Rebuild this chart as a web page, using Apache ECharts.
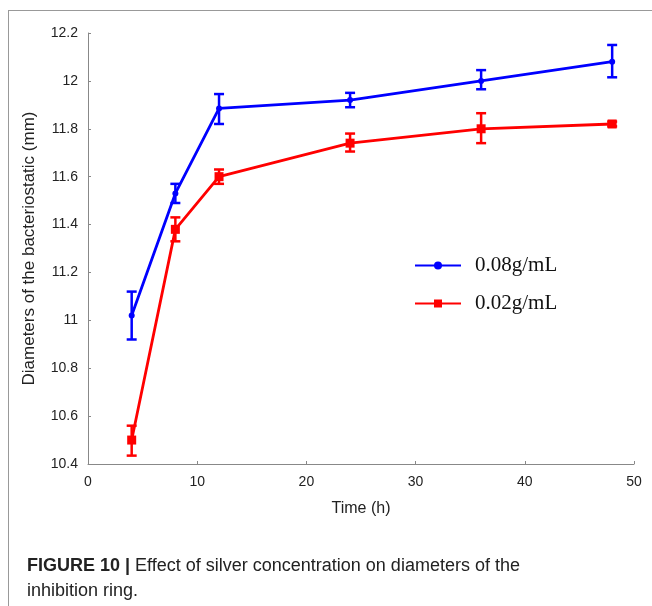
<!DOCTYPE html>
<html>
<head>
<meta charset="utf-8">
<script src="https://cdn.jsdelivr.net/npm/echarts@6/dist/echarts.min.js"></script>
<style>
  html, body { margin: 0; padding: 0; background: #fff; }
  #frame { position: absolute; left: 8px; top: 10px; width: 644px; height: 596px; border-left: 1px solid #999; border-top: 1px solid #999; }
  #chart { position: absolute; left: 0; top: 0; width: 652px; height: 606px; }
</style>
</head>
<body>
<div id="frame"></div>
<div id="chart"></div>
<script>
const times = [4, 8, 12, 24, 36, 48];
const highMean = [11.02, 11.53, 11.885, 11.92, 12.0, 12.08];
const highLow  = [10.92, 11.49, 11.82, 11.89, 11.965, 12.015];
const highUp   = [11.12, 11.57, 11.945, 11.95, 12.045, 12.15];
const lowMean  = [10.50, 11.38, 11.60, 11.74, 11.80, 11.82];
const lowLow   = [10.435, 11.33, 11.57, 11.705, 11.74, 11.81];
const lowUp    = [10.56, 11.43, 11.63, 11.78, 11.865, 11.83];
const seriesNames = ['0.08g/mL', '0.02g/mL'];

const chart = echarts.init(document.getElementById('chart'));

function errBars(color, low, up) {
  return {
    type: 'custom',
    silent: true,
    z: 1,
    data: times.map((t, i) => [t, low[i], up[i]]),
    renderItem: (params, api) => {
      const a = api.coord([api.value(0), api.value(1)]);
      const b = api.coord([api.value(0), api.value(2)]);
      const w = 5;
      const style = { stroke: color, lineWidth: 2.5 };
      return {
        type: 'group',
        children: [
          { type: 'line', shape: { x1: a[0], y1: a[1], x2: b[0], y2: b[1] }, style },
          { type: 'line', shape: { x1: a[0] - w, y1: a[1], x2: a[0] + w, y2: a[1] }, style },
          { type: 'line', shape: { x1: b[0] - w, y1: b[1], x2: b[0] + w, y2: b[1] }, style }
        ]
      };
    }
  };
}

const labelFont = { fontFamily: 'Liberation Sans, Arial, sans-serif', fontSize: 14, color: '#222' };

chart.setOption({
  animation: false,
  grid: { left: 88, right: 18, top: 33, bottom: 142 },
  title: {
    left: 22, top: 549,
    text: '{b|FIGURE 10 |} Effect of silver concentration on diameters of the\ninhibition ring.',
    textStyle: {
      fontFamily: 'Liberation Sans Narrow, Liberation Sans, Arial, sans-serif',
      fontSize: 18, fontWeight: 'normal', color: '#222', lineHeight: 25,
      rich: { b: { fontWeight: 'bold', fontSize: 18, fontFamily: 'Liberation Sans Narrow, Liberation Sans, Arial, sans-serif', color: '#222' } }
    }
  },
  legend: {
    left: 409, top: 250, orient: 'vertical', itemGap: 17,
    itemWidth: 46, itemHeight: 10,
    textStyle: { fontFamily: 'Liberation Serif, Times New Roman, serif', fontSize: 21, color: '#111', padding: [0, 0, 0, 9] },
    data: seriesNames
  },
  xAxis: {
    type: 'value', min: 0, max: 50, interval: 10,
    name: 'Time (h)', nameLocation: 'middle', nameGap: 37,
    nameTextStyle: Object.assign({}, labelFont, { fontSize: 16 }),
    axisLine: { lineStyle: { color: '#888' } },
    axisTick: { inside: true, length: 3, lineStyle: { color: '#888' } },
    axisLabel: Object.assign({ margin: 11 }, labelFont),
    splitLine: { show: false }
  },
  yAxis: {
    type: 'value', min: 10.4, max: 12.2, interval: 0.2,
    name: 'Diameters of the bacteriostatic (mm)', nameLocation: 'middle', nameGap: 50,
    nameTextStyle: Object.assign({}, labelFont, { fontSize: 17 }),
    axisLine: { show: true, lineStyle: { color: '#888' } },
    axisTick: { show: true, inside: true, length: 3, lineStyle: { color: '#888' } },
    axisLabel: Object.assign({ margin: 10, formatter: v => String(Math.round(v * 10) / 10) }, labelFont),
    splitLine: { show: false }
  },
  series: [
    {
      name: seriesNames[0], type: 'line', z: 3,
      data: times.map((t, i) => [t, highMean[i]]),
      symbol: 'circle', symbolSize: 6,
      lineStyle: { color: '#0000ff', width: 2.8 },
      itemStyle: { color: '#0000ff' }
    },
    {
      name: seriesNames[1], type: 'line', z: 3,
      data: times.map((t, i) => [t, lowMean[i]]),
      symbol: 'rect', symbolSize: 9,
      lineStyle: { color: '#ff0000', width: 2.8 },
      itemStyle: { color: '#ff0000' }
    },
    errBars('#0000ff', highLow, highUp),
    errBars('#ff0000', lowLow, lowUp)
  ]
});
</script>
</body>
</html>
